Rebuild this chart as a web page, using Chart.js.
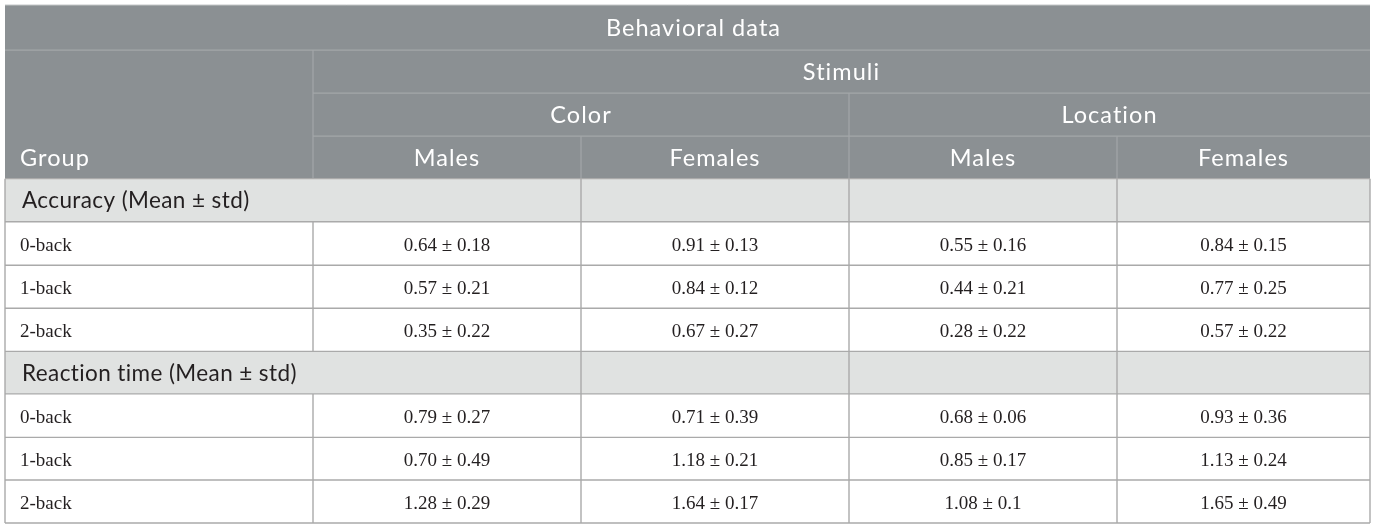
<!DOCTYPE html>
<html>
<head>
<meta charset="utf-8">
<script src="https://cdn.jsdelivr.net/npm/chart.js@4"></script>
<style>
  html, body { margin: 0; padding: 0; background: #ffffff; }
  #wrap { width: 1377px; height: 528px; }
</style>
</head>
<body>
<div id="wrap"><canvas id="tableChart" width="1377" height="528"></canvas></div>
<script>
// table texts
var title = "Behavioral data";
var stimuliTitle = "Stimuli";
var stimuli = ["Color", "Location"];
var sexes = ["Males", "Females"];
var groupTitle = "Group";
var measures = ["Accuracy (Mean \u00b1 std)", "Reaction time (Mean \u00b1 std)"];
var groups = ["0-back", "1-back", "2-back"];

// values: rows = groups, columns = Color Males, Color Females, Location Males, Location Females
var accuracyMean = [["0.64", "0.91", "0.55", "0.84"], ["0.57", "0.84", "0.44", "0.77"], ["0.35", "0.67", "0.28", "0.57"]];
var accuracyStd = [["0.18", "0.13", "0.16", "0.15"], ["0.21", "0.12", "0.21", "0.25"], ["0.22", "0.27", "0.22", "0.22"]];
var reactionMean = [["0.79", "0.71", "0.68", "0.93"], ["0.70", "1.18", "0.85", "1.13"], ["1.28", "1.64", "1.08", "1.65"]];
var reactionStd = [["0.27", "0.39", "0.06", "0.36"], ["0.49", "0.21", "0.17", "0.24"], ["0.29", "0.17", "0.1", "0.49"]];

// layout (scale units), kept apart from the data
var colEdges = [0, 308, 576, 844, 1112, 1365];
var rowEdges = [0, 45, 88, 131, 173.5, 216.5, 260, 303, 346, 388.5, 432, 474.5, 517.5];
var headerBg = "#8b9093";
var headerLine = "#a3a7a9";
var sectionBg = "#e0e2e1";
var bodyLine = "#aaaaaa";
var headFont = "Lato, 'Open Sans', sans-serif";
var bodyFont = "'Liberation Serif', 'DejaVu Serif', serif";

// build value cells (points) from the arrays
var cellPoints = [];
function addBlock(means, stds, firstRow) {
    for (var r = 0; r < means.length; r++) {
        for (var c = 0; c < means[r].length; c++) {
            cellPoints.push({
                x: (colEdges[c + 1] + colEdges[c + 2]) / 2,
                y: (rowEdges[firstRow + r] + rowEdges[firstRow + r + 1]) / 2,
                label: means[r][c] + " \u00b1 " + stds[r][c]
            });
        }
    }
}
addBlock(accuracyMean, accuracyStd, 5);
addBlock(reactionMean, reactionStd, 9);

// draws the table grid and texts with the chart's own scales
var tablePlugin = {
    id: "tablePlugin",
    beforeDatasetsDraw: function(chart) {
        var ctx = chart.ctx;
        var sx = chart.scales.x, sy = chart.scales.y;
        function X(v) { return sx.getPixelForValue(v); }
        function Y(v) { return sy.getPixelForValue(v); }
        var L = colEdges[0], R = colEdges[colEdges.length - 1];

        function fillRow(r0, r1, color) {
            ctx.fillStyle = color;
            ctx.fillRect(X(L), Y(rowEdges[r0]), X(R) - X(L), Y(rowEdges[r1]) - Y(rowEdges[r0]));
        }
        function hLine(r, c0, c1, color, w) {
            ctx.strokeStyle = color; ctx.lineWidth = w;
            ctx.beginPath();
            ctx.moveTo(X(colEdges[c0]), Y(rowEdges[r]));
            ctx.lineTo(X(colEdges[c1]), Y(rowEdges[r]));
            ctx.stroke();
        }
        function vLine(c, r0, r1, color, w) {
            ctx.strokeStyle = color; ctx.lineWidth = w;
            ctx.beginPath();
            ctx.moveTo(X(colEdges[c]), Y(rowEdges[r0]));
            ctx.lineTo(X(colEdges[c]), Y(rowEdges[r1]));
            ctx.stroke();
        }
        function text(str, x, r, font, color, align, spacing, dy) {
            ctx.font = font; ctx.fillStyle = color;
            ctx.letterSpacing = spacing || "0px";
            ctx.textAlign = align; ctx.textBaseline = "middle";
            ctx.fillText(str, x, (Y(rowEdges[r]) + Y(rowEdges[r + 1])) / 2 + (dy || 1));
        }

        ctx.save();
        // backgrounds
        fillRow(0, 4, headerBg);
        fillRow(4, 5, sectionBg);
        fillRow(8, 9, sectionBg);

        // header lines
        hLine(1, 0, 5, headerLine, 1.2);
        hLine(2, 1, 5, headerLine, 1.2);
        hLine(3, 1, 5, headerLine, 1.2);
        vLine(1, 1, 4, headerLine, 1.2);
        vLine(3, 2, 4, headerLine, 1.2);
        vLine(2, 3, 4, headerLine, 1.2);
        vLine(4, 3, 4, headerLine, 1.2);
        hLine(0, 0, 5, "#c4c7c8", 1);

        // body lines
        for (var r = 4; r < rowEdges.length; r++) hLine(r, 0, 5, bodyLine, 1.4);
        vLine(0, 4, 12, bodyLine, 1.4);
        vLine(5, 4, 12, bodyLine, 1.4);
        for (var c = 2; c <= 4; c++) vLine(c, 4, 12, bodyLine, 1.4);
        vLine(1, 5, 8, bodyLine, 1.4);
        vLine(1, 9, 12, bodyLine, 1.4);

        // header texts
        var hf = "23.5px " + headFont;
        var hs = "1.05px";
        text(title, (X(L) + X(R)) / 2 + 6, 0, hf, "#ffffff", "center", hs);
        text(stimuliTitle, (X(colEdges[1]) + X(R)) / 2, 1, hf, "#ffffff", "center", hs);
        for (var s = 0; s < stimuli.length; s++) {
            text(stimuli[s], (X(colEdges[1 + 2 * s]) + X(colEdges[3 + 2 * s])) / 2, 2, hf, "#ffffff", "center", hs);
            for (var k = 0; k < sexes.length; k++) {
                var ci = 1 + 2 * s + k;
                text(sexes[k], (X(colEdges[ci]) + X(colEdges[ci + 1])) / 2, 3, hf, "#ffffff", "center", hs);
            }
        }
        text(groupTitle, X(L) + 15, 3, hf, "#ffffff", "left", hs);

        // section and group labels
        var sf = "22.5px " + headFont;
        text(measures[0], X(L) + 17, 4, sf, "#231f20", "left", "0.4px");
        text(measures[1], X(L) + 17, 8, sf, "#231f20", "left", "0.4px");
        var bf = "19px " + bodyFont;
        for (var g = 0; g < groups.length; g++) {
            text(groups[g], X(L) + 15, 5 + g, bf, "#231f20", "left", "0px", 2.5);
            text(groups[g], X(L) + 15, 9 + g, bf, "#231f20", "left", "0px", 2.5);
        }
        ctx.letterSpacing = "0px";
        ctx.restore();
    },
    afterDatasetsDraw: function(chart) {
        // value labels at the positions of the dataset's points
        var ctx = chart.ctx;
        var meta = chart.getDatasetMeta(0);
        ctx.save();
        ctx.font = "19px " + bodyFont;
        ctx.fillStyle = "#231f20";
        ctx.textAlign = "center";
        ctx.textBaseline = "middle";
        meta.data.forEach(function(el, i) {
            ctx.fillText(cellPoints[i].label, el.x, el.y + 2.5);
        });
        ctx.restore();
    }
};

var ctx = document.getElementById("tableChart").getContext("2d");
var tableChart = new Chart(ctx, {
    type: "scatter",
    data: {
        datasets: [{
            label: title,
            data: cellPoints,
            pointRadius: 0,
            pointHoverRadius: 0
        }]
    },
    options: {
        responsive: false,
        animation: false,
        events: [],
        layout: { padding: { left: 5, right: 7, top: 5, bottom: 5 } },
        plugins: { legend: { display: false }, tooltip: { enabled: false } },
        scales: {
            x: { type: "linear", display: false, min: colEdges[0], max: colEdges[colEdges.length - 1] },
            y: { type: "linear", display: false, reverse: true, min: rowEdges[0], max: rowEdges[rowEdges.length - 1] }
        }
    },
    plugins: [tablePlugin]
});
</script>
</body>
</html>
